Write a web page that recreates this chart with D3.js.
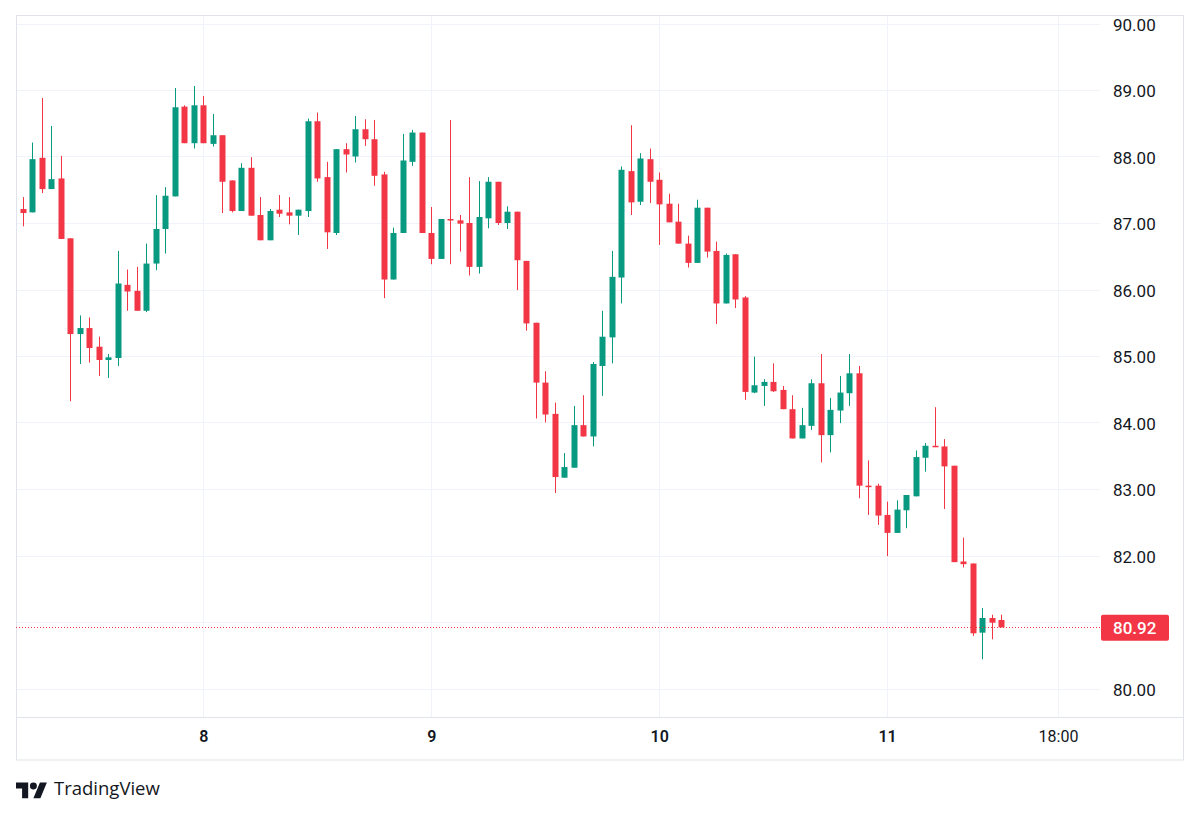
<!DOCTYPE html>
<html><head><meta charset="utf-8">
<script src="https://cdn.jsdelivr.net/npm/d3@7/dist/d3.min.js"></script>
<style>body{margin:0;background:#fff;} svg{display:block;font-family:Roboto,"Noto Sans",sans-serif;}</style>
</head><body><svg id="c" width="1200" height="817"></svg>
<script>
const opens  = [87.21,87.16,87.98,87.51,87.67,86.77,85.33,85.42,85.14,84.94,84.97,86.07,85.98,85.68,86.39,86.91,87.40,88.75,88.20,88.77,88.19,88.32,87.64,87.18,87.83,87.12,86.74,87.20,87.16,87.11,87.18,88.53,87.69,86.85,88.11,88.00,88.41,88.26,87.73,86.15,86.85,87.92,88.36,86.85,86.46,87.06,87.04,87.00,86.34,87.07,87.62,87.00,87.17,86.43,85.50,84.60,84.13,83.17,83.32,83.96,83.79,84.85,85.28,86.18,87.78,87.32,87.96,87.65,87.29,87.02,86.69,86.40,87.23,86.58,85.79,86.53,85.88,84.45,84.55,84.61,84.49,84.20,83.76,83.95,84.59,83.81,84.18,84.44,84.74,83.05,83.05,82.61,82.34,82.68,82.89,83.47,83.65,83.64,83.35,81.91,81.88,80.84,81.06,81.03];
const highs  = [87.39,88.21,88.88,88.46,88.01,86.77,85.61,85.58,85.29,85.03,86.58,86.30,86.34,86.69,87.42,87.54,89.03,88.77,89.06,88.91,88.64,88.32,87.64,87.90,87.99,87.39,87.21,87.42,87.39,87.20,88.57,88.66,87.92,88.11,88.20,88.61,88.56,88.55,87.77,86.93,88.34,88.40,88.36,87.24,87.06,88.55,87.12,87.69,87.63,87.69,87.62,87.25,87.17,86.43,85.50,84.77,84.30,83.54,84.25,84.41,84.91,85.68,86.58,87.85,88.47,88.05,88.12,87.76,87.44,87.29,86.81,87.35,87.23,86.72,86.54,86.53,85.90,84.99,84.65,84.89,84.55,84.41,84.22,84.65,85.03,84.37,84.70,85.03,84.85,83.43,83.08,82.81,82.83,82.91,83.58,83.69,84.23,83.75,83.35,82.27,81.88,81.21,81.11,81.11];
const lows   = [86.95,87.16,87.45,87.51,86.76,84.32,84.88,84.90,84.70,84.67,84.85,85.68,85.68,85.66,86.29,86.54,87.40,88.20,88.12,88.20,88.15,87.15,87.16,87.18,87.11,86.74,86.74,87.09,86.98,86.82,87.09,87.62,86.61,86.82,87.76,87.91,88.16,87.56,85.87,86.15,86.85,87.86,86.85,86.38,86.46,86.38,86.57,86.21,86.24,86.92,86.97,86.91,85.99,85.38,84.06,84.00,82.94,83.17,83.32,83.79,83.64,84.40,84.89,85.79,87.12,87.27,87.30,86.67,87.01,86.69,86.33,86.40,86.48,85.48,85.79,85.72,84.34,84.44,84.25,84.46,84.20,83.76,83.76,83.89,83.40,83.55,83.99,84.25,82.86,82.61,82.46,81.99,82.34,82.41,82.89,83.26,83.63,82.70,81.90,81.82,80.79,80.44,80.74,80.92];
const closes = [87.15,87.96,87.51,87.66,86.76,85.33,85.42,85.12,84.94,84.98,86.09,85.97,85.68,86.39,86.91,87.41,88.74,88.20,88.77,88.20,88.32,87.62,87.18,87.83,87.11,86.74,87.18,87.14,87.11,87.20,88.53,87.67,86.86,88.11,88.03,88.41,88.26,87.71,86.15,86.85,87.94,88.36,86.85,86.46,87.06,87.05,86.99,86.34,87.09,87.62,87.00,87.17,86.44,85.49,84.60,84.12,83.18,83.33,83.96,83.79,84.88,85.29,86.19,87.80,87.31,87.97,87.62,87.28,87.01,86.69,86.40,87.23,86.57,85.79,86.52,85.85,84.46,84.56,84.61,84.47,84.20,83.76,83.96,84.59,83.81,84.19,84.45,84.74,83.05,83.04,82.60,82.34,82.69,82.91,83.48,83.65,83.63,83.34,81.90,81.87,80.83,81.06,80.99,80.92];
const tickIndex  = [19, 43, 67, 91, 109];
const tickLabels = ["8", "9", "10", "11", "18:00"];
const tickBold   = [true, true, true, true, false];
const priceTicks = [80, 81, 82, 83, 84, 85, 86, 87, 88, 89, 90];
const lastPrice  = 80.92;

const UP = "#089981", DOWN = "#f23645", GRID = "#f0f3fa", FRAME = "#e0e3eb", TXT = "#131722";
const L = 16, R = 1100, T = 16, B = 717, RIGHT = 1183, BOTTOM = 760;

const svg = d3.select("#c");
const x = d3.scaleLinear().domain([0, opens.length - 1]).range([23, 1001]);
const y = d3.scaleLinear().domain([80, 90]).range([688.5, 23.5]);

// grid
svg.append("g").selectAll("line").data(priceTicks).join("line")
  .attr("x1", L).attr("x2", R)
  .attr("y1", d => Math.round(y(d)) + 0.5).attr("y2", d => Math.round(y(d)) + 0.5)
  .attr("stroke", GRID);
svg.append("g").selectAll("line").data(tickIndex).join("line")
  .attr("x1", d => Math.round(x(d)) + 0.5).attr("x2", d => Math.round(x(d)) + 0.5)
  .attr("y1", T).attr("y2", B)
  .attr("stroke", GRID);

// frame
const fr = svg.append("g").attr("stroke", FRAME).attr("fill", "none");
fr.append("rect").attr("x", L + 0.5).attr("y", T - 0.5).attr("width", RIGHT - L).attr("height", BOTTOM - T + 0.5);
fr.append("line").attr("x1", L).attr("x2", RIGHT).attr("y1", B + 0.5).attr("y2", B + 0.5);

// candles
const data = opens.map((o, i) => ({i, o, h: highs[i], l: lows[i], c: closes[i]}));
const g = svg.append("g");
g.selectAll("line.w").data(data).join("line").attr("class", "w")
  .attr("x1", d => Math.round(x(d.i)) + 0.5).attr("x2", d => Math.round(x(d.i)) + 0.5)
  .attr("y1", d => y(d.h)).attr("y2", d => y(d.l))
  .attr("stroke", d => d.c >= d.o ? UP : DOWN).attr("stroke-width", 1);
g.selectAll("rect.b").data(data).join("rect").attr("class", "b")
  .attr("x", d => Math.round(x(d.i)) - 2.5)
  .attr("width", 6)
  .attr("y", d => y(Math.max(d.o, d.c)))
  .attr("height", d => Math.max(1.5, Math.abs(y(d.o) - y(d.c))))
  .attr("fill", d => d.c >= d.o ? UP : DOWN);

// last price line
svg.append("line").attr("x1", L).attr("x2", R)
  .attr("y1", Math.round(y(lastPrice)) + 0.5).attr("y2", Math.round(y(lastPrice)) + 0.5)
  .attr("stroke", DOWN).attr("stroke-dasharray", "1,2");

// price axis (labels hidden where the last-price tag sits)
const labelTicks = priceTicks.filter(p => Math.abs(y(p) - y(lastPrice)) > 20);
const yAxis = d3.axisRight(y).tickValues(labelTicks).tickFormat(d3.format(".2f")).tickSize(0).tickPadding(0);
const ya = svg.append("g").attr("transform", `translate(1113,1.5)`).call(yAxis);
ya.select(".domain").remove();
ya.selectAll("text").attr("fill", TXT).attr("font-size", 17).attr("font-family", "Roboto, sans-serif");

// last price tag
const ly = y(lastPrice);
svg.append("rect").attr("x", 1101).attr("y", ly - 12.5).attr("width", 68).attr("height", 26).attr("rx", 2).attr("fill", DOWN);
svg.append("text").attr("x", 1113).attr("y", ly + 1).attr("dy", "0.35em").attr("fill", "#fff")
  .attr("font-size", 17).attr("font-weight", 500).text(d3.format(".2f")(lastPrice));

// time axis
const xAxis = d3.axisBottom(x).tickValues(tickIndex).tickFormat((d, k) => tickLabels[k]).tickSize(0).tickPadding(0);
const xa = svg.append("g").attr("transform", `translate(0,${B + 14})`).call(xAxis);
xa.select(".domain").remove();
xa.selectAll("text").attr("fill", TXT).attr("font-size", 16).attr("font-family", "Roboto, sans-serif")
  .attr("font-weight", (d, k) => tickBold[k] ? 600 : 400);

// logo
const logo = svg.append("g").attr("transform", "translate(16,779) scale(0.87)").attr("fill", TXT);
logo.append("path").attr("d", "M14 22H7V11H0V4h14v18zM28 22h-8l7.5-18h8L28 22z");
logo.append("circle").attr("cx", 20).attr("cy", 8).attr("r", 4);
svg.append("text").attr("x", 54).attr("y", 795).attr("fill", TXT).attr("font-size", 18.5)
  .attr("font-family", "'Open Sans', Roboto, sans-serif").text("TradingView");
</script></body></html>
